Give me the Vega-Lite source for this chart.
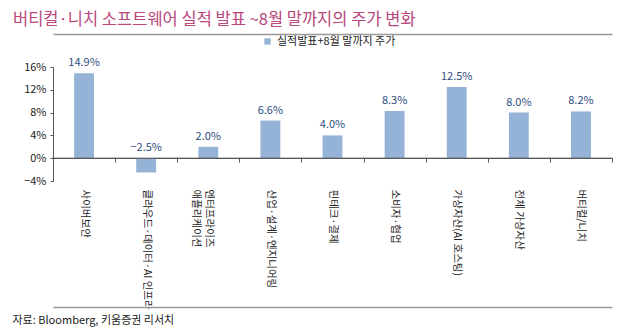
{
  "$schema": "https://vega.github.io/schema/vega-lite/v6.json",
  "width": 559,
  "height": 114,
  "autosize": {"type": "none"},
  "padding": {"left": 53, "top": 67, "right": 28, "bottom": 154},
  "background": "white",
  "title": {
    "text": "버티컬·니치 소프트웨어 실적 발표 ~8월 말까지의 주가 변화",
    "anchor": "start",
    "frame": "group",
    "dx": -40,
    "font": "Noto Sans CJK KR",
    "fontSize": 16.5,
    "fontWeight": "normal",
    "color": "#b8477c",
    "offset": 6
  },
  "config": {
    "view": {"stroke": null},
    "font": "Noto Sans CJK KR",
    "axisY": {"labelOverlap": false, "domain": true, "ticks": true, "grid": false}
  },
  "resolve": {"axis": {"x": "independent"}},
  "data": {
    "values": [
      {"cat": "사이버보안", "value": 0.149, "series": "실적발표+8월 말까지 주가"},
      {"cat": "클라우드·데이터·AI 인프라", "value": -0.025, "series": "실적발표+8월 말까지 주가"},
      {"cat": "엔터프라이즈\n애플리케이션", "value": 0.020, "series": "실적발표+8월 말까지 주가"},
      {"cat": "산업·설계·엔지니어링", "value": 0.066, "series": "실적발표+8월 말까지 주가"},
      {"cat": "핀테크·결제", "value": 0.040, "series": "실적발표+8월 말까지 주가"},
      {"cat": "소비자·협업", "value": 0.083, "series": "실적발표+8월 말까지 주가"},
      {"cat": "가상자산(AI 호스팅)", "value": 0.125, "series": "실적발표+8월 말까지 주가"},
      {"cat": "전체 가상자산", "value": 0.080, "series": "실적발표+8월 말까지 주가"},
      {"cat": "버티컬/니치", "value": 0.082, "series": "실적발표+8월 말까지 주가"}
    ]
  },
  "encoding": {
    "y": {
      "field": "value",
      "type": "quantitative",
      "scale": {"domain": [-0.04, 0.16], "nice": false, "zero": false},
      "axis": {
        "title": null,
        "values": [-0.04, 0, 0.04, 0.08, 0.12, 0.16],
        "format": ".0%",
        "grid": false,
        "domain": true,
        "ticks": true,
        "domainColor": "#555",
        "tickColor": "#555",
        "tickSize": 3,
        "labelFontSize": 11,
        "labelColor": "#222",
        "labelPadding": 4,
        "labelOverlap": false
      }
    }
  },
  "layer": [
    {
      "mark": {"type": "bar", "width": {"band": 0.32}},
      "encoding": {
        "x": {
          "field": "cat",
          "type": "nominal",
          "sort": null,
          "scale": {"paddingInner": 0, "paddingOuter": 0},
          "axis": {
            "title": "자료: Bloomberg, 키움증권 리서치",
            "titleAnchor": "start",
            "titleAlign": "left",
            "titleBaseline": "middle",
            "titleX": -41,
            "titleY": 162,
            "titleFontWeight": "normal",
            "titleFontSize": 11,
            "titleColor": "#222",
            "domain": true,
            "domainColor": "#555",
            "grid": false,
            "offset": -23,
            "tickBand": "extent",
            "tickSize": 4,
            "tickColor": "#555",
            "labelAngle": 90,
            "labelAlign": "left",
            "labelBaseline": "middle",
            "labelPadding": 27,
            "labelFontSize": 10.5,
            "labelColor": "#222",
            "labelLineHeight": 13,
            "labelOverlap": false,
            "labelExpr": "split(datum.label, '\\n')"
          }
        },
        "color": {
          "field": "series",
          "type": "nominal",
          "scale": {"range": ["#95b3d7"]},
          "legend": {
            "title": null,
            "orient": "none",
            "legendX": 209,
            "legendY": -31,
            "direction": "horizontal",
            "symbolType": "square",
            "symbolSize": 40,
            "labelFontSize": 11,
            "labelColor": "#222"
          }
        }
      }
    },
    {
      "transform": [{"calculate": "max(datum.value, 0)", "as": "pos"}],
      "mark": {"type": "text", "baseline": "bottom", "dy": -5, "fontSize": 11, "color": "#2d4d7f"},
      "encoding": {
        "x": {"field": "cat", "type": "nominal", "sort": null, "axis": null},
        "y": {
          "field": "pos",
          "type": "quantitative",
          "axis": {
            "title": null,
            "values": [-0.04, 0, 0.04, 0.08, 0.12, 0.16],
            "format": ".0%",
            "grid": false,
            "domain": true,
            "ticks": true,
            "domainColor": "#555",
            "tickColor": "#555",
            "tickSize": 3,
            "labelFontSize": 11,
            "labelColor": "#222",
            "labelPadding": 4,
            "labelOverlap": false
          }
        },
        "text": {"field": "value", "type": "quantitative", "format": ".1%"}
      }
    },
    {
      "mark": {"type": "tick", "orient": "horizontal", "size": 63, "thickness": 1, "color": "#555"},
      "encoding": {
        "x": {
          "field": "cat",
          "type": "nominal",
          "sort": null,
          "axis": {
            "orient": "top",
            "offset": 33,
            "title": null,
            "labels": false,
            "ticks": false,
            "grid": false,
            "domain": true,
            "domainColor": "#999",
            "domainWidth": 1.5
          }
        },
        "y": {"datum": 0, "type": "quantitative"}
      }
    },
    {
      "mark": {"type": "tick", "orient": "horizontal", "size": 63, "thickness": 1, "color": "#555"},
      "encoding": {
        "x": {
          "field": "cat",
          "type": "nominal",
          "sort": null,
          "axis": {
            "orient": "bottom",
            "offset": 126,
            "title": null,
            "labels": false,
            "ticks": false,
            "grid": false,
            "domain": true,
            "domainColor": "#999",
            "domainWidth": 1.5
          }
        },
        "y": {"datum": 0, "type": "quantitative"}
      }
    }
  ]
}
